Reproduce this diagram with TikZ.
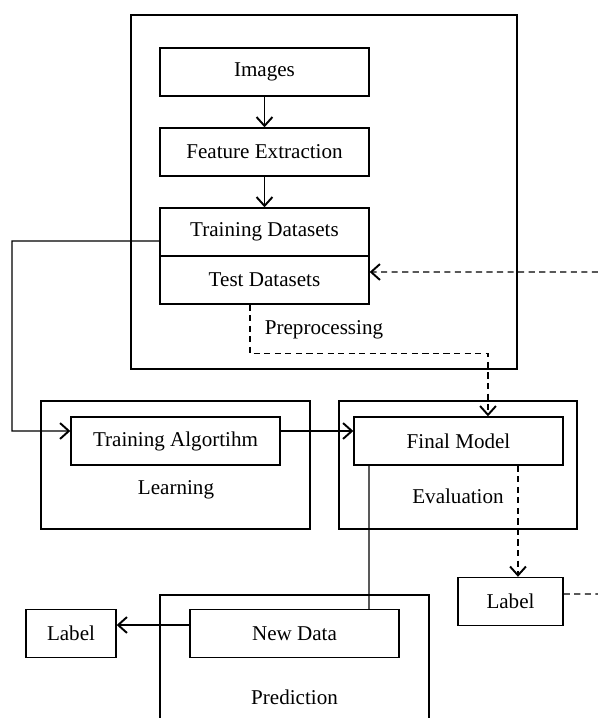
\documentclass[tikz,border=0pt]{standalone}
\usepackage{fontspec}
\setmainfont{Liberation Serif}
\usepackage{tikz}
\usetikzlibrary{arrows.meta,positioning,shapes}
\tikzstyle{block} = [rectangle, draw, line width=0.8pt, text centered,
    minimum width=4.18cm, minimum height=0.96cm, inner sep=0pt]
\tikzstyle{frame} = [rectangle, draw, line width=0.8pt, inner sep=0pt]
\tikzstyle{small} = [block, minimum width=1.9cm]
\tikzstyle{line} = [draw, line width=0.8pt]
\tikzstyle{dline} = [draw, line width=0.8pt, dash pattern=on 3.5pt off 2.5pt]

\begin{document}
\begin{tikzpicture}[x=0.02cm, y=-0.02cm, font=\fontsize{12}{14}\selectfont,
    >={Straight Barb[length=5pt,width=9pt,line width=1.1pt]}]
\useasboundingbox (0,0) rectangle (598,718);

% Frames
\node[frame, minimum width=7.72cm, minimum height=7.08cm] (pre) at (324,192) {};
\node[frame, minimum width=5.38cm, minimum height=2.56cm] (learn) at (175.5,465) {};
\node[frame, minimum width=4.76cm, minimum height=2.56cm] (eval) at (458,465) {};
\node[frame, minimum width=5.38cm, minimum height=3.4cm] (pred) at (294.5,680) {};

% Frame titles
\node (pretxt) at (324,330) {Preprocessing};
\node (learntxt) at (176,490) {Learning};
\node (evaltxt) at (458,496) {Evaluation};
\node (predtxt) at (294.5,697) {Prediction};

% Preprocessing nodes
\node[block] (img) at (264.5,72) {Images};
\node[block] (feat) at (264.5,152) {Feature Extraction};
\node[block] (train) at (264.5,232) {Training Datasets};
\node[block] (test) at (264.5,280) {Test Datasets};

% Learning and evaluation nodes
\node[block] (alg) at (175.5,441) {Training Algortihm};
\node[block] (final) at (458.5,441) {Final Model};

% Prediction nodes
\node[block] (new) at (294.5,633.5) {New Data};
\node[small, minimum width=2.1cm] (labR) at (510.5,601.5) {Label};
\node[small, minimum width=1.8cm] (labL) at (71,633.5) {Label};

% Free ends
\coordinate (inR) at (598,272);
\coordinate (outR) at (598,594);

% Arrows
\draw[line, ->] (img) -- (feat);
\draw[line, ->] (feat) -- (train);
\draw[line, ->] ([yshift=-0.18cm]train.west) -- (12,241) |- ([yshift=0.2cm]alg.west);
\draw[line, ->] ([yshift=0.2cm]alg.east) -- ([yshift=0.2cm]final.west);
\draw[dline, ->] (inR) -- ([yshift=0.16cm]test.east);
\draw[dline, ->] ([xshift=-0.29cm]test.south) -- ++(0,49) -| ([xshift=0.59cm]final.north);
\draw[line] ([xshift=-1.79cm]final.south) -- ([xshift=1.49cm]new.north);
\draw[dline, ->] ([xshift=1.19cm]final.south) -- ([xshift=1.19cm]final.south |- labR.north);
\draw[dline] ([yshift=0.15cm]labR.east) -- (outR);
\draw[line, ->] ([yshift=0.17cm]new.west) -- ([yshift=0.17cm]new.west -| labL.east);

\end{tikzpicture}
\end{document}
